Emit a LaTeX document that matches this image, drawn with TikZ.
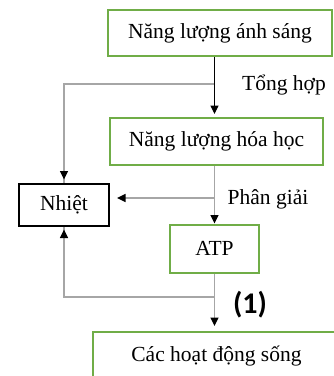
\documentclass[tikz,border=0pt]{standalone}
\usepackage{fontspec}
\setmainfont{Liberation Serif}
\newfontfamily\calibri{Carlito}
\usetikzlibrary{arrows.meta}
\definecolor{boxgreen}{HTML}{70AD47}
\definecolor{linegray}{HTML}{A6A6A6}
\begin{document}
\begin{tikzpicture}[x=1pt, y=-1pt, font=\fontsize{21.5}{24}\selectfont,
  gbox/.style = {draw=boxgreen, line width=2pt, inner sep=0pt},
  kbox/.style = {draw=black, line width=2pt, inner sep=0pt},
  tip/.style = {-{Triangle[width=8pt, length=8.5pt, color=black]}},
  gline/.style = {draw=linegray, line width=1.3pt}]
\useasboundingbox (0,0) rectangle (334,376);

\node [gbox, minimum width=224pt, minimum height=46pt] (top) at (220,33) {Năng lượng ánh sáng};
\node [gbox, minimum width=213pt, minimum height=47pt] (mid) at (216.5,141.5) {Năng lượng hóa học};
\node [kbox, minimum width=90pt, minimum height=42pt] (nhiet) at (64,204.5) {Nhiệt};
\node [gbox, minimum width=89pt, minimum height=48pt] (atp) at (214.5,248.5) {ATP};
\node [gbox, minimum width=247pt, minimum height=48pt] (song) at (216.5,356) {Các hoạt động sống};

% nhanh
\coordinate (tonghop) at (atp.north |- 0,84);
\coordinate (phangiai) at (atp.north |- 0,198);
\coordinate (mot) at (atp.south |- 0,297);

\draw [gline] (tonghop) -| (nhiet.north);
\draw [tip, line width=1pt, shorten >=3pt] (atp.north |- top.south) -- (atp.north |- mid.north);
\draw [gline, tip, shorten >=3pt] (tonghop -| nhiet.north) -- (nhiet.north);

\draw [gline, tip] (atp.north |- mid.south) -- (atp.north);
\draw [gline, tip, shorten >=7pt] (phangiai) -- (phangiai -| nhiet.east);

\draw [gline, tip, shorten >=5pt] (atp.south) -- (atp.south |- song.north);
\draw [gline] (mot) -| (nhiet.south);
\draw [gline, tip, shorten >=3pt] (mot -| nhiet.south) -- (nhiet.south);

\node (lbl1) at (284,85) {Tổng hợp};
\node (lbl2) at (268,199) {Phân giải};
\node (lbl3) at (250,305) {\fontsize{30}{32}\selectfont\calibri\bfseries (1)};
\end{tikzpicture}
\end{document}
